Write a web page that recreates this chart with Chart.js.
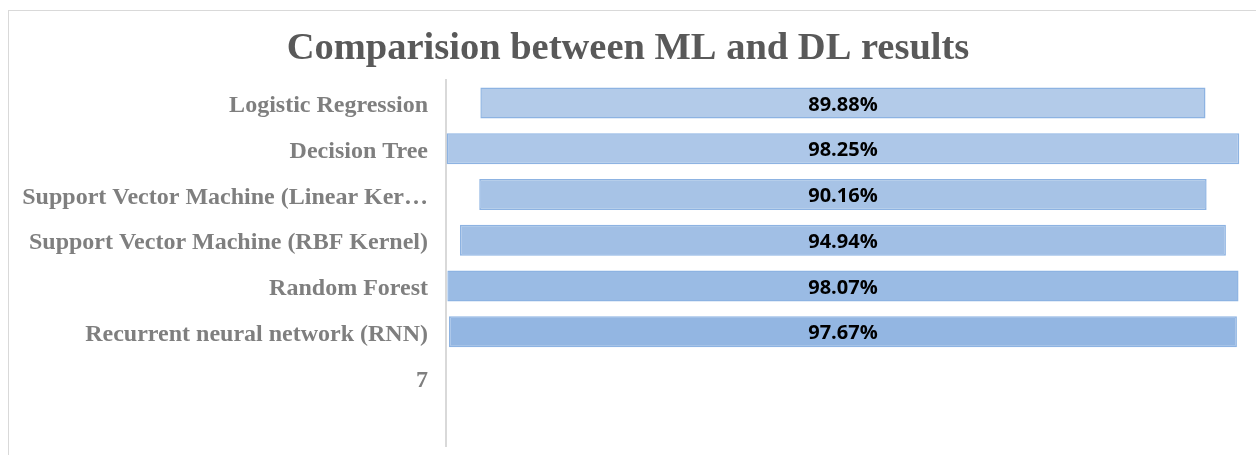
<!DOCTYPE html>
<html>
<head>
<meta charset="utf-8">
<script src="https://cdn.jsdelivr.net/npm/chart.js@4/dist/chart.umd.min.js"></script>
<style>
  html, body { margin: 0; padding: 0; background: #fff; overflow: hidden; }
  #wrap { position: relative; width: 1256px; height: 455px; }
  #frame { position: absolute; left: 8px; top: 10px; width: 1300px; height: 500px;
           border: 1px solid #d9d9d9; pointer-events: none; }
</style>
</head>
<body>
<div id="wrap">
  <canvas id="chart" width="1256" height="455"></canvas>
  <div id="frame"></div>
</div>
<script>
// data
const models = [
    'Logistic Regression',
    'Decision Tree',
    'Support Vector Machine (Linear Kernel)',
    'Support Vector Machine (RBF Kernel)',
    'Random Forest',
    'Recurrent neural network (RNN)',
    '7',
    ''
];
const accuracy = [89.88, 98.25, 90.16, 94.94, 98.07, 97.67];
const barColors = ['#b3cbe9', '#adc7e8', '#a7c3e6', '#a1bfe5', '#9abbe4', '#93b6e2'];

// centre each bar on zero, like a funnel
const spans = accuracy.map(v => [-v / 2, v / 2]);
const xMin = -49.2, xMax = 51.2;

// labels in the middle of each bar
const centerLabels = {
    id: 'centerLabels',
    afterDatasetsDraw(chart) {
        const ctx = chart.ctx;
        const meta = chart.getDatasetMeta(0);
        ctx.save();
        ctx.font = 'bold 20px "Open Sans", sans-serif';
        ctx.fillStyle = '#000';
        ctx.textAlign = 'center';
        ctx.textBaseline = 'middle';
        meta.data.forEach((bar, i) => {
            if (accuracy[i] === undefined) return;
            ctx.fillText(accuracy[i].toFixed(2) + '%', (bar.x + bar.base) / 2, bar.y + 2);
        });
        ctx.restore();
    }
};

new Chart(document.getElementById('chart'), {
    type: 'bar',
    data: {
        labels: models,
        datasets: [{
            data: spans,
            backgroundColor: barColors,
            borderColor: '#8db3e2',
            borderWidth: 1.5,
            borderSkipped: false,
            categoryPercentage: 1,
            barPercentage: 0.68
        }]
    },
    options: {
        indexAxis: 'y',
        responsive: false,
        animation: false,
        layout: { padding: { left: 0, right: 0, top: 0, bottom: 9 } },
        plugins: {
            legend: { display: false },
            tooltip: { enabled: false },
            title: {
                display: true,
                text: 'Comparision between ML and DL results',
                color: '#595959',
                font: { family: '"Liberation Serif", "Times New Roman", serif', size: 38.5, weight: 'bold' },
                padding: { top: 26, bottom: 8 }
            }
        },
        scales: {
            x: { display: false, min: xMin, max: xMax },
            y: {
                grid: { display: false, drawTicks: false },
                border: { display: true, color: '#d9d9d9', width: 2 },
                afterFit: scale => {
                    scale.width = 446;
                    scale.paddingTop = 0;
                    scale.paddingBottom = 0;
                },
                ticks: {
                    padding: 18,
                    labelOffset: 3,
                    color: '#7f7f7f',
                    font: { family: '"Liberation Serif", "Times New Roman", serif', size: 24, weight: 'bold' },
                    callback: function(value) {
                        const s = this.getLabelForValue(value);
                        return s.length > 35 ? s.slice(0, 34) + '…' : s;
                    }
                }
            }
        }
    },
    plugins: [centerLabels]
});
</script>
</body>
</html>
